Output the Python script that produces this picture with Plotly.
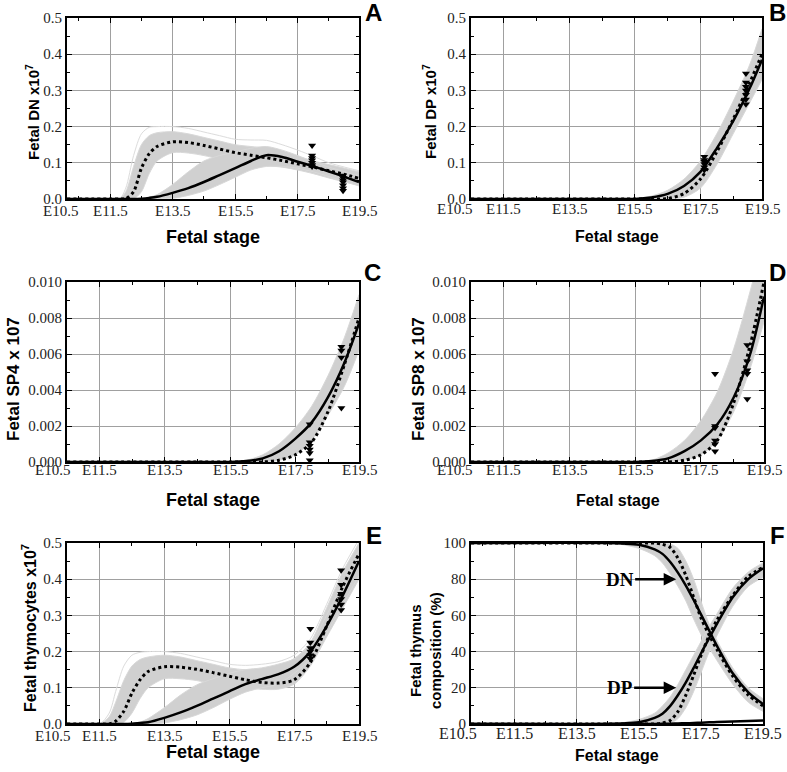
import plotly.graph_objects as go

W, H = 787, 772

# ---------------- tick labels ----------------
tick_text = ["E10.5", "E11.5", "E13.5", "E15.5", "E17.5", "E19.5"]

# ---------------- Panel A : Fetal DN ----------------
a_x = [10.12, 11.5, 11.8, 12.0, 12.25, 12.5, 12.75, 13.0, 13.5, 14.0, 14.5, 15.0, 15.5, 16.0, 16.5, 17.0, 17.5, 18.0, 18.5, 19.0, 19.46]
a_dotted = [0, 0, 0, 0.001, 0.02, 0.085, 0.125, 0.145, 0.158, 0.156, 0.148, 0.138, 0.128, 0.121, 0.114, 0.106, 0.097, 0.088, 0.078, 0.068, 0.057]
a_solid = [0, 0, 0, 0, 0, 0.001, 0.003, 0.006, 0.017, 0.03, 0.047, 0.066, 0.085, 0.105, 0.121, 0.116, 0.103, 0.09, 0.076, 0.061, 0.047]
a_dot_hi = [0, 0, 0, 0.02, 0.09, 0.15, 0.175, 0.183, 0.186, 0.18, 0.17, 0.16, 0.15, 0.145, 0.14, 0.13, 0.118, 0.105, 0.095, 0.085, 0.075]
a_dot_lo = [0, 0, 0, 0, 0, 0.02, 0.07, 0.105, 0.128, 0.127, 0.12, 0.11, 0.1, 0.095, 0.092, 0.088, 0.08, 0.07, 0.058, 0.047, 0.038]
a_sol_hi = [0, 0, 0, 0, 0, 0, 0.005, 0.012, 0.04, 0.075, 0.105, 0.12, 0.13, 0.14, 0.145, 0.135, 0.12, 0.103, 0.088, 0.075, 0.063]
a_sol_lo = [0, 0, 0, 0, 0, 0, 0, 0, 0.002, 0.01, 0.022, 0.04, 0.06, 0.08, 0.09, 0.09, 0.085, 0.075, 0.062, 0.048, 0.036]
a_outlier = [0, 0, 0, 0.03, 0.12, 0.18, 0.198, 0.2, 0.2, 0.195, 0.185, 0.175, 0.165, 0.163, 0.162, 0.15, 0.135, 0.118, 0.1, 0.088, 0.078]
a_mx = [17.96] * 7 + [18.95] * 7
a_my = [0.148, 0.12, 0.113, 0.107, 0.1, 0.094, 0.09, 0.065, 0.058, 0.052, 0.046, 0.038, 0.03, 0.023]

# ---------------- Panel B : Fetal DP ----------------
b_x = [10.5, 15.0, 15.5, 16.0, 16.5, 17.0, 17.5, 18.0, 18.5, 19.0, 19.38]
b_solid = [0, 0, 0, 0.004, 0.014, 0.036, 0.075, 0.14, 0.215, 0.305, 0.385]
b_dotted = [0, 0, 0, 0, 0.001, 0.015, 0.055, 0.13, 0.22, 0.32, 0.4]
b_hi = [0, 0, 0.001, 0.008, 0.024, 0.055, 0.105, 0.18, 0.27, 0.37, 0.47]
b_lo = [0, 0, 0, 0, 0, 0.005, 0.03, 0.095, 0.18, 0.265, 0.33]
b_mx = [17.62] * 6 + [18.89] * 7
b_my = [0.117, 0.108, 0.103, 0.097, 0.088, 0.08, 0.347, 0.322, 0.31, 0.3, 0.288, 0.275, 0.262]

# ---------------- Panel C : Fetal SP4 ----------------
c_x = [10.5, 15.0, 15.5, 16.0, 16.5, 17.0, 17.5, 18.0, 18.5, 19.0, 19.45]
c_solid = [0, 0, 0, 0.00005, 0.0002, 0.0006, 0.0013, 0.0022, 0.0036, 0.0055, 0.0077]
c_dotted = [0, 0, 0, 0, 0, 0.0001, 0.0004, 0.0011, 0.0028, 0.0054, 0.008]
c_hi = [0, 0, 0.00002, 0.0001, 0.0004, 0.001, 0.0019, 0.0031, 0.0048, 0.0069, 0.0093]
c_lo = [0, 0, 0, 0, 0, 0.0001, 0.0004, 0.0012, 0.0026, 0.0042, 0.0062]
c_mx = [17.94] * 6 + [18.91] * 4
c_my = [0.0021, 0.0011, 0.0009, 0.0007, 0.0005, 0.0001, 0.0064, 0.0062, 0.0058, 0.003]

# ---------------- Panel D : Fetal SP8 ----------------
d_x = [10.5, 15.0, 15.5, 16.0, 16.5, 17.0, 17.5, 18.0, 18.5, 19.0, 19.42]
d_solid = [0, 0, 0, 0.00005, 0.0002, 0.0006, 0.0012, 0.0021, 0.0036, 0.006, 0.0092]
d_dotted = [0, 0, 0, 0, 0, 0.0001, 0.0004, 0.0012, 0.0033, 0.0065, 0.01]
d_hi = [0, 0, 0.00002, 0.0001, 0.0005, 0.0012, 0.0023, 0.0039, 0.0063, 0.0095, 0.0125]
d_lo = [0, 0, 0, 0, 0, 0.0001, 0.0004, 0.0012, 0.0028, 0.0052, 0.0078]
d_mx = [17.93] * 6 + [18.91] * 5
d_my = [0.0049, 0.002, 0.0019, 0.0012, 0.001, 0.0006, 0.0065, 0.0056, 0.0051, 0.0049, 0.0035]

# ---------------- Panel E : Fetal thymocytes ----------------
e_x = [10.5, 11.5, 11.8, 12.0, 12.25, 12.5, 12.75, 13.0, 13.5, 14.0, 14.5, 15.0, 15.5, 16.0, 16.5, 17.0, 17.5, 18.0, 18.5, 19.0, 19.5]
e_dotted = [0, 0, 0, 0.008, 0.035, 0.085, 0.122, 0.145, 0.158, 0.157, 0.151, 0.142, 0.132, 0.122, 0.115, 0.113, 0.122, 0.17, 0.27, 0.38, 0.47]
e_solid = [0, 0, 0, 0, 0, 0.001, 0.003, 0.005, 0.017, 0.032, 0.05, 0.07, 0.09, 0.11, 0.124, 0.137, 0.158, 0.2, 0.27, 0.355, 0.45]
e_dot_hi = [0, 0, 0.02, 0.06, 0.12, 0.16, 0.178, 0.185, 0.19, 0.185, 0.175, 0.165, 0.155, 0.15, 0.153, 0.16, 0.18, 0.225, 0.32, 0.42, 0.5]
e_dot_lo = [0, 0, 0, 0, 0.005, 0.03, 0.07, 0.1, 0.125, 0.125, 0.12, 0.11, 0.105, 0.1, 0.096, 0.096, 0.11, 0.16, 0.24, 0.32, 0.4]
e_sol_hi = [0, 0, 0, 0, 0, 0, 0.005, 0.015, 0.045, 0.08, 0.108, 0.125, 0.14, 0.15, 0.155, 0.165, 0.18, 0.22, 0.3, 0.39, 0.48]
e_sol_lo = [0, 0, 0, 0, 0, 0, 0, 0, 0.003, 0.012, 0.025, 0.045, 0.068, 0.088, 0.1, 0.11, 0.14, 0.18, 0.25, 0.33, 0.41]
e_outlier = [0, 0, 0.03, 0.09, 0.16, 0.19, 0.198, 0.2, 0.2, 0.195, 0.185, 0.175, 0.165, 0.162, 0.165, 0.172, 0.19, 0.235, 0.33, 0.43, 0.51]
e_mx = [18.0] * 6 + [18.95] * 6
e_my = [0.263, 0.225, 0.21, 0.2, 0.19, 0.18, 0.425, 0.385, 0.36, 0.345, 0.33, 0.315]

# ---------------- Panel F : composition (%) ----------------
f_x = [10.12, 14.5, 15.0, 15.5, 16.0, 16.25, 16.5, 16.75, 17.0, 17.25, 17.5, 17.75, 18.0, 18.5, 19.0, 19.47]
f_dn_solid = [100, 100, 99.7, 99, 96.5, 94, 89.5, 83.5, 76.5, 68.5, 60, 51.5, 43, 28, 17.5, 11]
f_dp_solid = [0, 0, 0.3, 1, 3.4, 5.7, 10, 16, 23, 31, 39.5, 47.5, 55.5, 70, 80, 86]
f_dn_dotted = [100, 100, 100, 100, 100, 99.3, 97.5, 91.5, 82, 70, 58, 49, 41, 26.5, 16, 10]
f_dp_dotted = [0, 0, 0, 0, 0, 0.5, 2, 7, 16, 27, 38.5, 49, 57.5, 71, 81.5, 86.5]
f_sp_solid = [0, 0, 0, 0, 0.05, 0.1, 0.2, 0.3, 0.4, 0.55, 0.7, 0.9, 1.1, 1.4, 1.7, 2.0]
f_dn_hi = [100, 100, 100, 100, 100, 100, 99.5, 97, 90, 80, 67, 55, 46, 31, 20, 14]
f_dn_lo = [100, 100, 99, 97, 93, 89, 83, 76, 68, 58, 49, 42, 35, 22, 12, 7]
f_dp_hi = [0, 0, 0.8, 2.5, 6, 10, 15, 22, 30, 38, 46, 54, 61, 75, 84, 89]
f_dp_lo = [0, 0, 0, 0, 0, 0, 0.5, 3, 9, 18, 29, 40, 49, 65, 76, 81]

# ---------------- styles ----------------
BAND_FILL = "rgb(208,208,208)"
BAND_EDGE = "rgb(216,216,216)"
OUTLIER = "rgb(220,220,220)"
GRID = "rgb(160,160,160)"
SERIF = "Liberation Serif"
SANS = "Liberation Sans"

panels = [
    dict(x=a_x, bands=[(a_dot_lo, a_dot_hi), (a_sol_lo, a_sol_hi)], outliers=[a_outlier],
         solid=[a_solid], dotted=[a_dotted], mx=a_mx, my=a_my,
         xr=[10.12, 19.46], yr=[0, 0.5], dy=0.1, fmt=".1f", px=[67, 359], py=[18, 199],
         e105=60, lab_dy=12, xfs=15, letter="A", lxy=(373, 12),
         ytitle="<b>Fetal DN x10<sup>7</sup></b>", yt=(33, 112), ytfs=15,
         xtitle_y=237, xtfs=18),
    dict(x=b_x, bands=[(b_lo, b_hi)], outliers=[], solid=[b_solid], dotted=[b_dotted], mx=b_mx, my=b_my,
         xr=[10.5, 19.38], yr=[0, 0.5], dy=0.1, fmt=".1f", px=[471, 762], py=[18, 199],
         e105=454, lab_dy=10, xfs=15, letter="B", lxy=(777, 12),
         ytitle="<b>Fetal DP x10<sup>7</sup></b>", yt=(430, 112), ytfs=15,
         xtitle_y=237, xtfs=16),
    dict(x=c_x, bands=[(c_lo, c_hi)], outliers=[], solid=[c_solid], dotted=[c_dotted], mx=c_mx, my=c_my,
         xr=[10.5, 19.45], yr=[0, 0.010], dy=0.002, fmt=".3f", px=[67, 359], py=[282, 462],
         e105=52, lab_dy=8, xfs=15, letter="C", lxy=(372, 273),
         ytitle="<b>Fetal SP4 x 107</b>", yt=(13, 379), ytfs=17,
         xtitle_y=500, xtfs=18),
    dict(x=d_x, bands=[(d_lo, d_hi)], outliers=[], solid=[d_solid], dotted=[d_dotted], mx=d_mx, my=d_my,
         xr=[10.5, 19.42], yr=[0, 0.010], dy=0.002, fmt=".3f", px=[471, 764], py=[282, 462],
         e105=454, lab_dy=8, xfs=15, letter="D", lxy=(777, 273),
         ytitle="<b>Fetal SP8 x 107</b>", yt=(418, 379), ytfs=17,
         xtitle_y=500, xtfs=16),
    dict(x=e_x, bands=[(e_dot_lo, e_dot_hi), (e_sol_lo, e_sol_hi)], outliers=[e_outlier],
         solid=[e_solid], dotted=[e_dotted], mx=e_mx, my=e_my,
         xr=[10.5, 19.5], yr=[0, 0.5], dy=0.1, fmt=".1f", px=[67, 359], py=[543, 724],
         e105=52, lab_dy=12, xfs=15, letter="E", lxy=(374, 535),
         ytitle="<b>Fetal thymocytes x10<sup>7</sup></b>", yt=(29, 628), ytfs=16,
         xtitle_y=752, xtfs=18),
    dict(x=f_x, bands=[(f_dn_lo, f_dn_hi), (f_dp_lo, f_dp_hi)], outliers=[],
         solid=[f_dn_solid, f_dp_solid, f_sp_solid], dotted=[f_dn_dotted, f_dp_dotted], mx=[], my=[],
         xr=[10.12, 19.47], yr=[0, 100], dy=20, fmt="d", px=[471, 763], py=[543, 724],
         e105=458, lab_dy=9, xfs=16, letter="F", lxy=(777, 535),
         ytitle="<b>Fetal thymus<br>composition (%)</b>", yt=(425, 651), ytfs=15,
         xtitle_y=755, xtfs=16),
]

def fx(p):
    return p / W

def fy(p):
    return 1 - p / H

fig = go.Figure()
layout = dict(template="none", width=W, height=H, margin=dict(l=0, r=0, t=0, b=0, autoexpand=False),
              paper_bgcolor="white", plot_bgcolor="white", showlegend=False)
annotations = []

for i, p in enumerate(panels):
    n = "" if i == 0 else str(i + 1)
    xa, ya = "x" + n, "y" + n
    common = dict(xaxis=xa, yaxis=ya, showlegend=False, hoverinfo="skip")
    for lo, hi in p["bands"]:
        fig.add_trace(go.Scatter(x=p["x"], y=lo, mode="lines",
                                 line=dict(color=BAND_EDGE, width=1, shape="spline", smoothing=0.8), **common))
        fig.add_trace(go.Scatter(x=p["x"], y=hi, mode="lines", fill="tonexty", fillcolor=BAND_FILL,
                                 line=dict(color=BAND_EDGE, width=1, shape="spline", smoothing=0.8), **common))
    for o in p["outliers"]:
        fig.add_trace(go.Scatter(x=p["x"], y=o, mode="lines",
                                 line=dict(color=OUTLIER, width=1, shape="spline", smoothing=0.8), **common))
    for s in p["solid"]:
        fig.add_trace(go.Scatter(x=p["x"], y=s, mode="lines",
                                 line=dict(color="black", width=2.5, shape="spline", smoothing=0.8), **common))
    for d in p["dotted"]:
        fig.add_trace(go.Scatter(x=p["x"], y=d, mode="lines",
                                 line=dict(color="black", width=3, dash="3px,3px", shape="spline", smoothing=0.8), **common))
    if p["mx"]:
        fig.add_trace(go.Scatter(x=p["mx"], y=p["my"], mode="markers",
                                 marker=dict(symbol="triangle-down", size=7, color="black", line=dict(width=0)), **common))

    x0, x1 = p["xr"]
    tv = [x0 + 1e-4, 11.5, 13.5, 15.5, 17.5, x1 - 1e-4]
    minor_x = [v for v in [10.5, 12.5, 14.5, 16.5, 18.5] if x0 + 0.05 < v < x1 - 0.05]
    layout["xaxis" + n] = dict(
        domain=[fx(p["px"][0]), fx(p["px"][1])], range=[x0, x1], anchor=ya, automargin=False,
        tickmode="array", tickvals=tv, showticklabels=False,
        showgrid=True, gridcolor=GRID, gridwidth=1, zeroline=False,
        showline=True, linecolor="black", linewidth=2, mirror="allticks",
        ticks="inside", ticklen=5, tickcolor="black", tickwidth=1,
        minor=dict(tickmode="array", tickvals=minor_x, ticks="inside", ticklen=3,
                   tickcolor="black", tickwidth=1, showgrid=False),
        fixedrange=True)
    layout["yaxis" + n] = dict(
        domain=[fy(p["py"][1]), fy(p["py"][0])], range=p["yr"], anchor=xa, automargin=False,
        tickmode="linear", tick0=0, dtick=p["dy"], tickformat=p["fmt"],
        tickfont=dict(family=SERIF, size=15, color="#222"),
        showgrid=True, gridcolor=GRID, gridwidth=1, zeroline=False,
        showline=True, linecolor="black", linewidth=2, mirror="allticks",
        ticks="inside", ticklen=5, tickcolor="black", tickwidth=1,
        minor=dict(dtick=p["dy"] / 2, ticks="inside", ticklen=3, tickcolor="black",
                   tickwidth=1, showgrid=False),
        fixedrange=True)

    # stage labels under the frame
    lab_y = fy(p["py"][1] + p["lab_dy"])
    labfont = dict(family=SERIF, size=p["xfs"], color="#222")
    annotations.append(dict(text=tick_text[0], xref="paper", yref="paper",
                            x=fx(p["e105"]), y=lab_y, xanchor="center", yanchor="middle",
                            showarrow=False, font=labfont))
    for val, lab in zip([11.5, 13.5, 15.5, 17.5, x1], tick_text[1:]):
        annotations.append(dict(text=lab, xref=xa, yref="paper", x=val, y=lab_y,
                                xanchor="center", yanchor="middle", showarrow=False, font=labfont))

    annotations.append(dict(text="<b>%s</b>" % p["letter"], xref="paper", yref="paper",
                            x=fx(p["lxy"][0]), y=fy(p["lxy"][1]), xanchor="center", yanchor="middle",
                            showarrow=False, font=dict(family=SANS, size=24, color="black")))
    annotations.append(dict(text="<b>Fetal stage</b>", xref="paper", yref="paper",
                            x=fx((p["px"][0] + p["px"][1]) / 2), y=fy(p["xtitle_y"]),
                            xanchor="center", yanchor="middle", showarrow=False,
                            font=dict(family=SANS, size=p["xtfs"], color="black")))
    annotations.append(dict(text=p["ytitle"], xref="paper", yref="paper",
                            x=fx(p["yt"][0]), y=fy(p["yt"][1]), xanchor="center", yanchor="middle",
                            textangle=-90, showarrow=False,
                            font=dict(family=SANS, size=p["ytfs"], color="black")))

for label, yv in [("DN", 80), ("DP", 20)]:
    annotations.append(dict(text="<b>%s</b>" % label, xref="x6", yref="y6", x=16.69, y=yv,
                            axref="x6", ayref="y6", ax=14.88, ay=yv, showarrow=True,
                            arrowhead=2, arrowsize=1, arrowwidth=2.5, arrowcolor="black",
                            font=dict(family=SERIF, size=19, color="black")))

layout["annotations"] = annotations
fig.update_layout(**layout)
fig.write_html("out.html", config={"displayModeBar": False},
               post_script="document.body.style.margin='0';document.body.style.overflow='hidden';")
